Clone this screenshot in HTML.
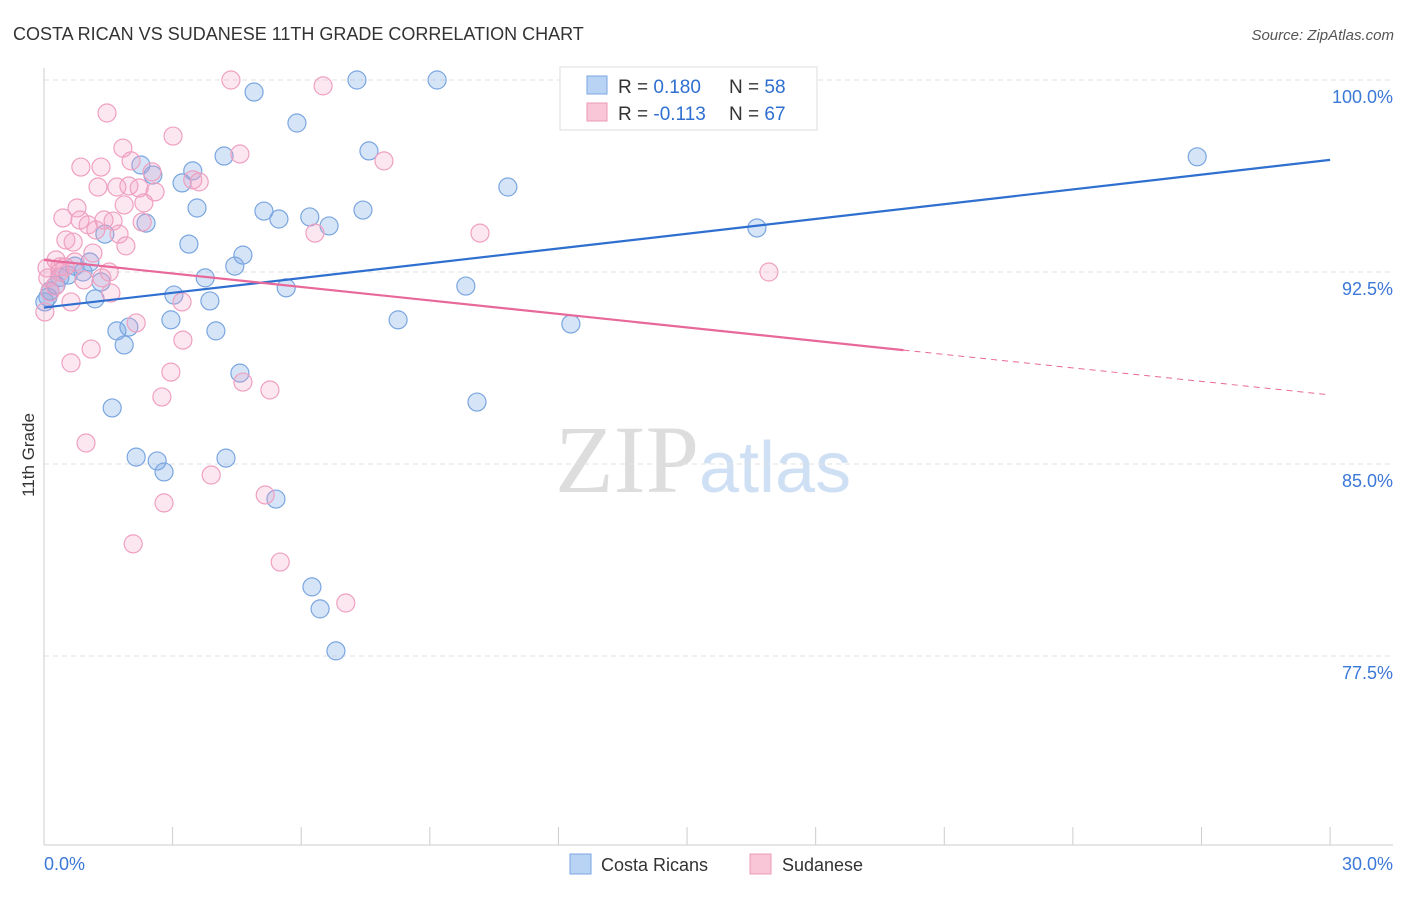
<!DOCTYPE html>
<html><head><meta charset="utf-8"><style>
body{margin:0;background:#fff;font-family:"Liberation Sans",sans-serif}
</style></head><body>
<svg id="chart" width="1406" height="892" xmlns="http://www.w3.org/2000/svg" font-family="Liberation Sans, sans-serif">
<text x="13" y="40" font-size="18" fill="#333">COSTA RICAN VS SUDANESE 11TH GRADE CORRELATION CHART</text>
<text x="1394" y="40" font-size="15" fill="#555" text-anchor="end" font-style="italic">Source: ZipAtlas.com</text>
<text x="555" y="492" font-size="96" fill="#ddd" font-family="Liberation Serif, serif">ZIP<tspan fill="#cfe0f5" font-family="Liberation Sans, sans-serif" font-size="72">atlas</tspan></text>
<text transform="translate(34,455) rotate(-90)" font-size="17" fill="#333" text-anchor="middle">11th Grade</text>
<g id="grid"></g><g id="pts"></g><g id="lines"></g>
<g>
<rect x="560" y="67" width="257" height="63" fill="#fff" stroke="#ddd"/>
<rect x="587" y="76" width="20" height="18" fill="#b9d3f5" stroke="#7aa6e0"/>
<text x="618" y="93" font-size="19" fill="#333">R = <tspan fill="#2f6fd0">0.180</tspan></text>
<text x="729" y="93" font-size="19" fill="#333">N = <tspan fill="#2f6fd0">58</tspan></text>
<rect x="587" y="103" width="20" height="18" fill="#f9c6d8" stroke="#eb9ab8"/>
<text x="618" y="120" font-size="19" fill="#333">R = <tspan fill="#2f6fd0">-0.113</tspan></text>
<text x="729" y="120" font-size="19" fill="#333">N = <tspan fill="#2f6fd0">67</tspan></text>
</g>
<g>
<rect x="570" y="854" width="21" height="20" fill="#b9d3f5" stroke="#7aa6e0"/>
<text x="601" y="871" font-size="18" fill="#333">Costa Ricans</text>
<rect x="750" y="854" width="21" height="20" fill="#f9c6d8" stroke="#eb9ab8"/>
<text x="782" y="871" font-size="18" fill="#333">Sudanese</text>
</g>
</svg>
<script>
const yTicks=[100,92.5,85,77.5];
const yTickLabels=["100.0%","92.5%","85.0%","77.5%"];
const xTickLabels=["0.0%","30.0%"];
const blueX=[4.9,7.3,9.17,5.9,7.58,4.2,2.26,3.47,2.54,3.22,10.82,3.57,5.13,5.48,6.2,6.65,7.44,2.38,1.42,3.38,4.64,4.45,1.07,0.72,0.91,0.56,0.28,0.14,1.33,3.76,5.65,9.84,1.19,3.03,3.87,2.96,1.7,1.98,4.01,8.26,12.29,1.87,4.57,10.1,1.59,2.15,2.64,2.8,4.245,5.41,6.25,6.44,6.81,16.63,26.9,0.09,0.37,0.02];
const blueY=[99.53,100,100,98.32,97.23,97.03,96.68,96.45,96.29,95.98,95.82,95.0,94.88,94.57,94.65,94.3,94.92,94.41,93.98,93.59,93.16,92.73,92.89,92.73,92.5,92.38,91.99,91.76,92.11,92.27,91.88,91.95,91.45,91.6,91.37,90.63,90.2,90.35,90.2,90.63,90.47,89.65,88.55,87.42,87.19,85.27,85.12,84.69,85.23,83.63,80.2,79.34,77.7,94.22,97.0,91.52,92.29,91.33];
const pinkX=[4.36,6.51,1.47,3.01,1.84,4.57,7.93,0.86,1.33,2.03,2.52,3.47,3.62,1.26,1.7,1.98,2.22,2.59,0.77,0.44,0.84,1.03,1.4,1.61,1.87,2.33,2.29,1.21,1.75,6.32,10.17,0.51,0.68,1.14,1.91,0.28,0.07,0.37,0.09,0.93,1.35,1.52,0.26,0.63,1.56,3.22,2.15,3.24,1.1,0.63,2.96,4.64,5.27,2.75,0.98,3.9,5.16,2.8,2.08,5.51,7.04,16.91,0.02,0.14,0.37,0.49,0.72];
const pinkY=[100,99.77,98.71,97.81,97.34,97.11,96.84,96.6,96.6,96.84,96.41,96.1,96.02,95.82,95.82,95.86,95.78,95.63,95.0,94.61,94.53,94.34,94.53,94.49,95.12,95.2,94.45,94.14,93.98,94.02,94.02,93.75,93.67,93.24,93.52,92.97,92.66,92.7,92.27,92.19,92.27,92.5,91.95,91.33,91.68,91.33,90.51,89.84,89.49,88.95,88.59,88.2,87.89,87.62,85.82,84.57,83.79,83.48,81.88,81.17,79.57,92.5,90.94,91.72,92.5,92.7,92.89];
const X=v=>44+v*42.87, Y=v=>80+(100-v)*25.6;
const ns="http://www.w3.org/2000/svg";
function mk(tag,a,parent){const e=document.createElementNS(ns,tag);for(const k in a)e.setAttribute(k,a[k]);document.getElementById(parent).appendChild(e);return e;}
yTicks.forEach((t,i)=>{
 const l=mk('line',{x1:44,x2:1393,y1:Y(t),y2:Y(t),stroke:'#e2e2e2','stroke-dasharray':'5,4'},'grid');
 
 
 const tx=mk('text',{x:1393,y:Y(t)+23,'font-size':18,fill:'#3b78d8','text-anchor':'end'},'grid');
 tx.textContent=yTickLabels[i];
 
 
});
let ax=mk('line',{x1:44,x2:44,y1:68,y2:845,stroke:'#ccc'},'grid');


ax=mk('line',{x1:44,x2:1393,y1:845,y2:845,stroke:'#ccc'},'grid');


for(let i=0;i<=10;i++){const t=mk('line',{x1:X(i*3),x2:X(i*3),y1:827,y2:845,stroke:'#ccc'},'grid');
 
 }
[[0,'start',44],[30,'end',1393]].forEach((d,i)=>{const t=mk('text',{x:d[2],y:870,'font-size':18,fill:'#3b78d8','text-anchor':d[1]},'grid');t.textContent=xTickLabels[i];
 
 });
blueX.forEach((v,i)=>{const c=mk('circle',{cx:X(v),cy:Y(blueY[i]),r:9,fill:'rgba(120,165,230,0.3)',stroke:'#7aa6e0','stroke-width':1.2},'pts');
 
 });
pinkX.forEach((v,i)=>{const c=mk('circle',{cx:X(v),cy:Y(pinkY[i]),r:9,fill:'rgba(245,160,195,0.25)',stroke:'#efa0c0','stroke-width':1.2},'pts');
 
 });
const blueTrend=[91.11,96.88], pinkTrend=[92.97,87.7], pinkSolidEnd=20.05;
let l=mk('line',{x1:X(0),y1:Y(blueTrend[0]),x2:X(30),y2:Y(blueTrend[1]),stroke:'#2f6fd0','stroke-width':2.2},'lines');


const py=x=>pinkTrend[0]+(pinkTrend[1]-pinkTrend[0])*x/30;
l=mk('line',{x1:X(0),y1:Y(py(0)),x2:X(pinkSolidEnd),y2:Y(py(pinkSolidEnd)),stroke:'#e8689a','stroke-width':2.2},'lines');


l=mk('line',{x1:X(pinkSolidEnd),y1:Y(py(pinkSolidEnd)),x2:X(30),y2:Y(py(30)),stroke:'#e8689a','stroke-width':1,'stroke-dasharray':'6,5'},'lines');


</script>
</body></html>
